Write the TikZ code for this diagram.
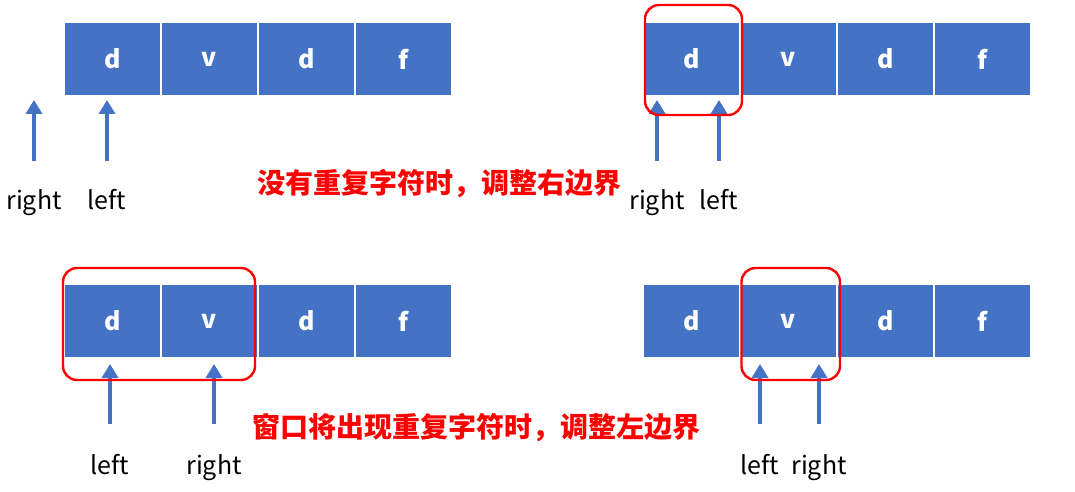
\documentclass[tikz,border=0pt]{standalone}
\usepackage{fontspec}
\setmainfont{Noto Sans CJK SC}
\usetikzlibrary{arrows.meta, positioning}
\definecolor{cellblue}{HTML}{4472C4}
\definecolor{winred}{HTML}{FF0000}

\begin{document}
\begin{tikzpicture}[x=0.5pt, y=-0.5pt,
                cell/.style={fill=cellblue, draw=white, line width=0.8pt, minimum width=48.5pt,
                           minimum height=37pt, inner sep=0pt, outer sep=0pt,
                           text=white, font=\fontsize{12.5}{14}\selectfont\bfseries},
                lbl/.style={inner sep=0pt, text height=9pt, text depth=3pt,
                           font=\fontsize{12.5}{15}\selectfont},
                ptr/.style={-{Triangle[width=8pt, length=7pt]}, cellblue, line width=2.4pt},
                win/.style={winred, line width=1.2pt, rounded corners=7pt},
                note/.style={text=winred, font=\fontsize{14}{16}\selectfont\bfseries}]

                \useasboundingbox (0,0) rectangle (1075,492);

                % top left: window empty
                \node[cell, anchor=north west] (a1) at (64,22) {d};
                \node[cell, right=0pt of a1] (a2) {v};
                \node[cell, right=0pt of a2] (a3) {d};
                \node[cell, right=0pt of a3] (a4) {f};

                \node[lbl] (ar) at (34,203) {right};
                \node[lbl] (al) at (107,203) {left};
                \draw[ptr] ([yshift=15pt]ar.north) -- ([yshift=-2pt]ar |- a1.south);
                \draw[ptr] ([yshift=15pt]al.north) -- ([yshift=-2pt]al |- a1.south);

                % top right: right moved onto first d
                \node[cell, anchor=north west] (b1) at (643,22) {d};
                \node[cell, right=0pt of b1] (b2) {v};
                \node[cell, right=0pt of b2] (b3) {d};
                \node[cell, right=0pt of b3] (b4) {f};

                \node[lbl] (br) at (657,203) {right};
                \node[lbl] (bl) at (719,203) {left};
                \draw[ptr] ([yshift=15pt]br.north) -- ([yshift=-2pt]br |- b1.south);
                \draw[ptr] ([yshift=15pt]bl.north) -- ([yshift=-2pt]bl |- b1.south);

                \draw[win] ([xshift=1pt, yshift=8.5pt]b1.north west) rectangle ([xshift=1pt, yshift=-9.5pt]b1.south east);

                % "no repeat" note
                \node[note] (n1) at (439,184) {没有重复字符时，调整右边界};

                % bottom left: window d v
                \node[cell, anchor=north west] (c1) at (64,284) {d};
                \node[cell, right=0pt of c1] (c2) {v};
                \node[cell, right=0pt of c2] (c3) {d};
                \node[cell, right=0pt of c3] (c4) {f};

                \node[lbl] (cl) at (110,468) {left};
                \node[lbl] (cr) at (214,468) {right};
                \draw[ptr] ([yshift=16pt]cl.north) -- ([yshift=-3pt]cl |- c1.south);
                \draw[ptr] ([yshift=16pt]cr.north) -- ([yshift=-3pt]cr |- c1.south);

                \draw[win] ([xshift=-0.5pt, yshift=8pt]c1.north west) rectangle ([xshift=-1.5pt, yshift=-11pt]c2.south east);

                % bottom right: window moved to v
                \node[cell, anchor=north west] (e1) at (643,284) {d};
                \node[cell, right=0pt of e1] (e2) {v};
                \node[cell, right=0pt of e2] (e3) {d};
                \node[cell, right=0pt of e3] (e4) {f};

                \node[lbl] (el) at (760,468) {left};
                \node[lbl] (er) at (819,468) {right};
                \draw[ptr] ([yshift=16pt]el.north) -- ([yshift=-3pt]el |- e1.south);
                \draw[ptr] ([yshift=16pt]er.north) -- ([yshift=-3pt]er |- e1.south);

                \draw[win] ([xshift=0.75pt, yshift=8pt]e2.north west) rectangle ([xshift=1.5pt, yshift=-11pt]e2.south east);

                % "repeat coming" note
                \node[note] (n2) at (476,428) {窗口将出现重复字符时，调整左边界};
            \end{tikzpicture}
\end{document}
